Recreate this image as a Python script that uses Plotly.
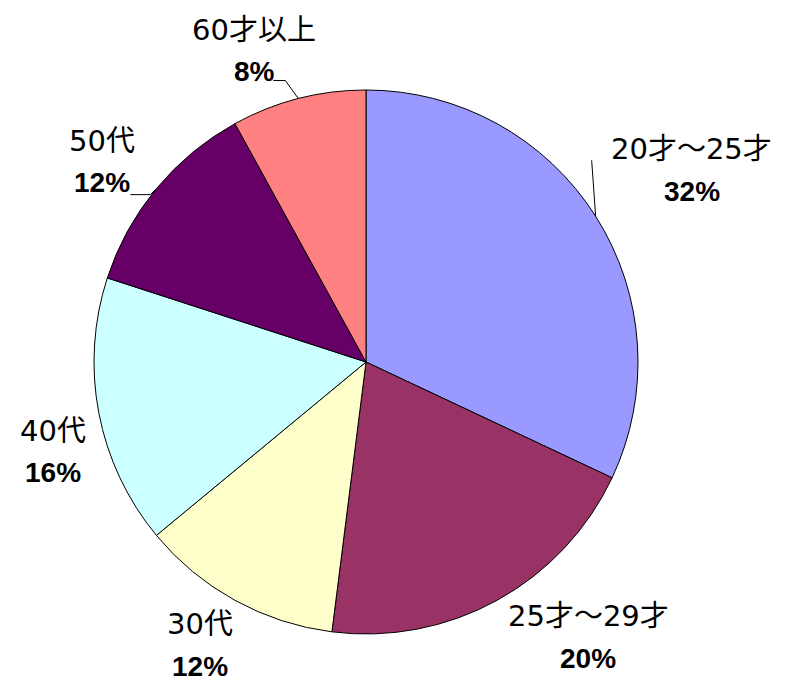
import math
import plotly.graph_objects as go

# ---- data ----
categories = ["20才～25才", "25才～29才", "30代", "40代", "50代", "60才以上"]
shares = [32, 20, 12, 16, 12, 8]
slice_colors = ["#9999FF", "#993366", "#FFFFCC", "#CCFFFF", "#660066", "#FF8080"]

# ---- layout (pixels) ----
PAGE_PAD = 8  # default body margin of the html page
FIG_W, FIG_H = 798, 684
M_L, M_T = 94 - PAGE_PAD, 90 - PAGE_PAD
PLOT_W = PLOT_H = 544
M_R = FIG_W - M_L - PLOT_W
M_B = FIG_H - M_T - PLOT_H
CX, CY = M_L + PLOT_W / 2, M_T + PLOT_H / 2
R = min(PLOT_W, PLOT_H) / 2

# label block centre offsets from the slice's outer mid-point (px)
label_offsets = [(96, -46), (91, 37), (-35, 45), (-46, 39), (-54, -27), (-44, -48)]
# leader line vertices relative to slice outer mid-point (px); None = no leader
leader_offsets = [[(-4, -56)], None, None, None, [(-6, 6), (-26, 6)], [(-13, -18), (-25, -18)]]
LINE_GAP = 21


def to_paper(px, py):
    return (px - M_L) / PLOT_W, 1 - (py - M_T) / PLOT_H


fig = go.Figure(
    go.Pie(
        labels=categories,
        values=shares,
        sort=False,
        direction="clockwise",
        rotation=0,
        marker=dict(colors=slice_colors, line=dict(color="#000000", width=1)),
        textinfo="none",
        hoverinfo="skip",
        showlegend=False,
        domain=dict(x=[0, 1], y=[0, 1]),
    )
)

total = sum(shares)
annotations = []
shapes = []
cum = 0
for i, (cat, v) in enumerate(zip(categories, shares)):
    mid = (cum + v / 2) / total
    cum += v
    th = 2 * math.pi * mid
    ex = CX + R * math.sin(th)
    ey = CY - R * math.cos(th)
    dx, dy = label_offsets[i]
    lx, ly = ex + dx, ey + dy
    x1, y1 = to_paper(lx, ly - LINE_GAP)
    x2, y2 = to_paper(lx, ly + LINE_GAP)
    annotations.append(dict(
        x=x1, y=y1, xref="paper", yref="paper", text=cat, showarrow=False,
        xanchor="center", yanchor="middle",
        font=dict(family="DejaVu Sans, Noto Sans CJK JP", size=29, color="#000000"),
    ))
    annotations.append(dict(
        x=x2, y=y2, xref="paper", yref="paper", text=f"<b>{v}%</b>", showarrow=False,
        xanchor="center", yanchor="middle",
        font=dict(family="Liberation Sans, Arial", size=28, color="#000000"),
    ))
    if leader_offsets[i]:
        pts = [(ex, ey)] + [(ex + ox, ey + oy) for ox, oy in leader_offsets[i]]
        path = ""
        for j, (px, py) in enumerate(pts):
            qx, qy = to_paper(px, py)
            path += ("M" if j == 0 else " L") + f"{qx:.5f},{qy:.5f}"
        shapes.append(dict(type="path", path=path, xref="paper", yref="paper",
                           line=dict(color="#000000", width=1)))

fig.update_layout(
    width=FIG_W,
    height=FIG_H,
    margin=dict(l=M_L, r=M_R, t=M_T, b=M_B),
    paper_bgcolor="#FFFFFF",
    plot_bgcolor="#FFFFFF",
    annotations=annotations,
    shapes=shapes,
)

fig.write_html("out.html")
